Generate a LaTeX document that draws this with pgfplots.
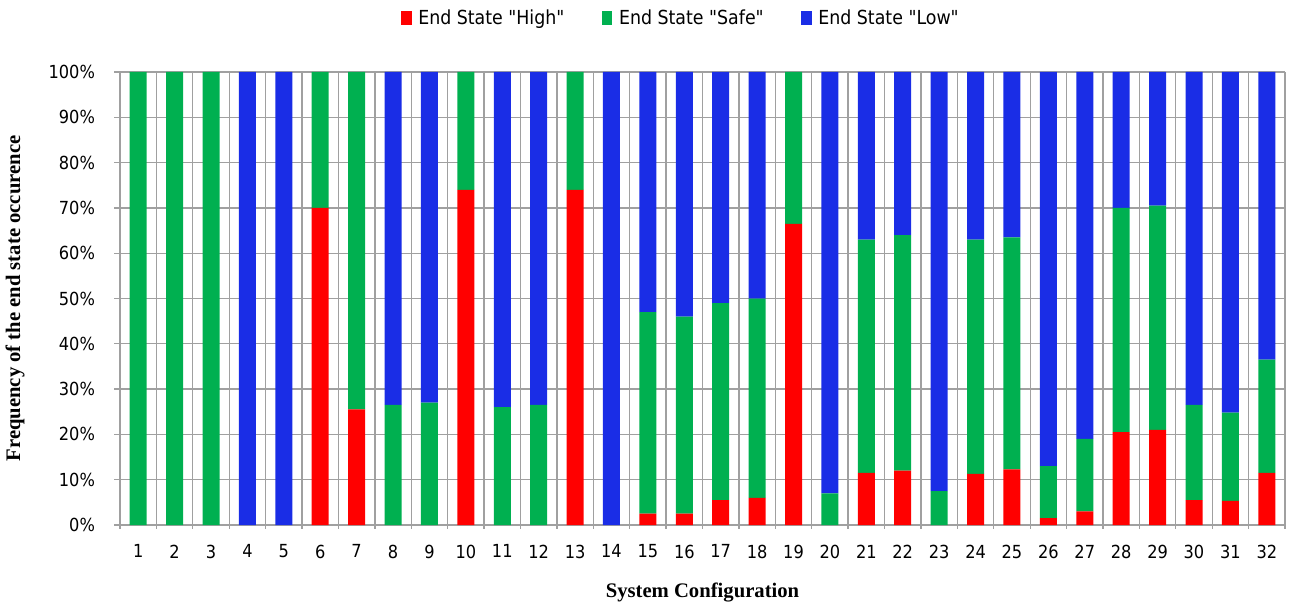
\documentclass[border=0pt]{standalone}
\usepackage{pgfplots}
\pgfplotsset{compat=1.18}
\usepackage{pgfplotstable}
\usepackage{fontspec}
\setmainfont{DejaVu Sans Condensed}
\newfontfamily\legfont{DejaVu Sans Condensed}
\newfontfamily\serifb{Liberation Serif}
\definecolor{cHigh}{HTML}{FF0000}
\definecolor{cSafe}{HTML}{00B050}
\definecolor{cLow}{HTML}{1A2DE6}
\definecolor{gridc}{HTML}{A0A0A0}
\pgfplotstableread{
x high safe low
1 0 100 0
2 0 100 0
3 0 100 0
4 0 0 100
5 0 0 100
6 70 30 0
7 25.5 74.5 0
8 0 26.5 73.5
9 0 27 73
10 74 26 0
11 0 26 74
12 0 26.5 73.5
13 74 26 0
14 0 0 100
15 2.5 44.5 53
16 2.5 43.5 54
17 5.5 43.5 51
18 6 44 50
19 66.5 33.5 0
20 0 7 93
21 11.5 51.5 37
22 12 52 36
23 0 7.5 92.5
24 11.3 51.7 37
25 12.3 51.2 36.5
26 1.5 11.5 87
27 3 16 81
28 20.5 49.5 30
29 21 49.5 29.5
30 5.5 21 73.5
31 5.3 19.5 75.2
32 11.5 25 63.5
}\data
\begin{document}
\begin{tikzpicture}[x=1pt,y=1pt]
\begin{axis}[
  at={(90pt,61.5pt)}, anchor=south west,
  width=873.75pt, height=339.75pt, scale only axis,
  ybar stacked, bar width=12.75pt,
  xmin=0.5, xmax=32.5, ymin=0, ymax=100,
  xtick={1,...,32}, major x tick style={draw=none},
  minor xtick={0.5,1.5,...,32.5},
  minor x tick style={gridc, line width=1pt},
  xminorgrids=true, ymajorgrids=true,
  minor grid style={gridc, line width=1pt},
  major grid style={gridc, line width=1pt},
  ytick={0,10,...,100},
  yticklabel={\pgfmathprintnumber{\tick}\%},
  ytick style={gridc, line width=1pt},
  tick align=outside,
  axis line style={gridc, line width=1pt},
  axis lines*=left,
  /pgf/number format/assume math mode=true,
  tick label style={font=\fontsize{13.5}{15}\selectfont},
  yticklabel style={xshift=-11pt},
  xticklabel style={yshift=-7pt},
  xlabel={\serifb\bfseries\fontsize{15.5}{17}\selectfont System Configuration},
  ylabel={\serifb\bfseries\fontsize{15.5}{17}\selectfont Frequency of the end state occurence},
  every axis x label/.style={at={(axis description cs:0.5,-0.150)}, anchor=center},
  every axis y label/.style={at={(axis description cs:-0.0901,0.5)}, anchor=center, rotate=90},
  legend style={at={(0.5,1)}, anchor=center, yshift=40.5pt, xshift=-16pt, draw=none, legend columns=3,
    font=\legfont\fontsize{14.5}{16}\selectfont,
    /tikz/every odd column/.append style={column sep=3pt},
    /tikz/every even column/.append style={column sep=26pt}},
  legend image code/.code={\fill[#1] (0pt,-5.5pt) rectangle (8pt,5pt);},
  clip=false,
]
\addplot[fill=cHigh, draw=none] table[x=x,y=high]{\data};
\addplot[fill=cSafe, draw=none] table[x=x,y=safe]{\data};
\addplot[fill=cLow, draw=none] table[x=x,y=low]{\data};
\legend{End State "High",End State "Safe",End State "Low"}
\end{axis}
\pgfresetboundingbox
\useasboundingbox (0,0) rectangle (970.5pt,455.25pt);
\end{tikzpicture}
\end{document}
